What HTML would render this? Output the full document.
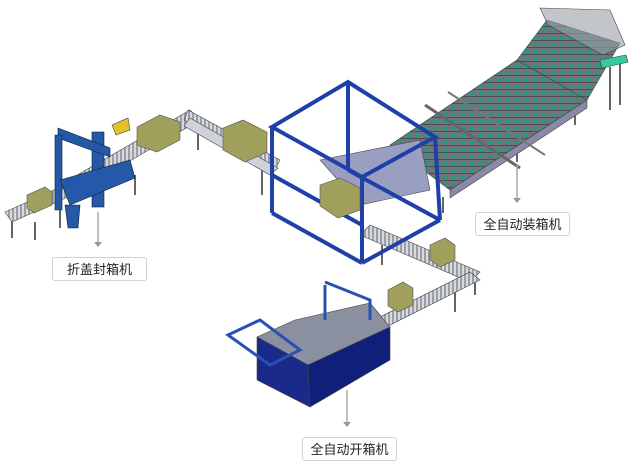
<!DOCTYPE html>
<html><head><meta charset="utf-8"><style>
html,body{margin:0;padding:0;background:#fff;width:632px;height:465px;overflow:hidden}
.lb{position:absolute;height:24px;border:1px solid #ccd3da;border-radius:3px;background:#fff;font:13px "Liberation Sans","Noto Sans CJK SC",sans-serif;color:#222;text-align:center;line-height:24px;box-sizing:border-box}
</style></head><body>
<svg width="632" height="465" style="position:absolute;left:0;top:0">
<defs>
<pattern id="rol" width="4" height="4" patternUnits="userSpaceOnUse"><rect width="4" height="4" fill="#d8dade"/><rect width="2" height="4" fill="#9a9ea6"/></pattern>
<pattern id="tl" width="9" height="7" patternUnits="userSpaceOnUse"><rect width="9" height="7" fill="#70747c"/><rect y="5" width="9" height="1" fill="#4a4e56"/><ellipse cx="4" cy="2.5" rx="2.6" ry="1.6" fill="#1a9e7e"/></pattern>
</defs>
<g stroke="#444" stroke-width="0.6">
<g stroke="#666" stroke-width="2">
<line x1="12" y1="220" x2="12" y2="238"/><line x1="35" y1="222" x2="35" y2="240"/><line x1="60" y1="205" x2="60" y2="228"/><line x1="135" y1="175" x2="135" y2="195"/><line x1="198" y1="128" x2="198" y2="150"/><line x1="262" y1="163" x2="262" y2="195"/><line x1="382" y1="245" x2="382" y2="265"/><line x1="455" y1="290" x2="455" y2="312"/><line x1="475" y1="280" x2="475" y2="295"/><line x1="443" y1="197" x2="443" y2="213"/><line x1="517" y1="150" x2="517" y2="162"/><line x1="575" y1="105" x2="575" y2="125"/><line x1="610" y1="67" x2="610" y2="110"/><line x1="620" y1="60" x2="620" y2="105"/>
</g>
<polygon points="5,212 63,186 72,195 12,222" fill="url(#rol)"/>
<polygon points="60,185 190,110 200,120 70,196" fill="url(#rol)"/>
<polygon points="188,110 280,160 275,170 184,120" fill="url(#rol)"/>
<polygon points="190,118 278,168 270,175 184,126" fill="#cfd2d8"/>
<polygon points="370,225 480,272 470,282 360,235" fill="url(#rol)"/>
<polygon points="470,272 480,280 380,330 370,322" fill="url(#rol)"/>
<polygon points="390,145 517,60 587,100 450,190" fill="url(#tl)"/>
<polygon points="450,190 587,100 587,108 450,198" fill="#8a8aa8"/>
<polygon points="517,60 547,20 620,43 587,100" fill="url(#tl)"/>
<polygon points="540,8 610,10 625,45 603,55 548,25" fill="#9aa0a8" fill-opacity="0.6"/>
<polygon points="600,60 626,55 628,62 602,68" fill="#3c9"/>
<line x1="425" y1="105" x2="520" y2="168" stroke="#666" stroke-width="3"/>
<line x1="448" y1="92" x2="545" y2="155" stroke="#777" stroke-width="2"/>
<polygon points="320,160 420,140 430,190 360,205" fill="#9a9ec0"/>
<g stroke="#1e40a8" stroke-width="4" fill="none">
<polygon points="272,127 348,82 435,137 362,177"/>
<line x1="272" y1="127" x2="272" y2="213"/><line x1="362" y1="177" x2="362" y2="263"/><line x1="435" y1="137" x2="440" y2="220"/><line x1="348" y1="82" x2="348" y2="170"/>
<line x1="272" y1="213" x2="362" y2="263"/><line x1="362" y1="263" x2="440" y2="220"/>
<line x1="272" y1="175" x2="362" y2="225"/><line x1="348" y1="170" x2="440" y2="220"/>
</g>
<g fill="#a09f5c" stroke="#555">
<polygon points="27,195 45,187 52,192 52,205 34,213 27,208"/>
<polygon points="137,127 160,115 180,122 180,140 157,152 137,145"/>
<polygon points="223,128 243,120 267,132 267,152 245,162 223,150"/>
<polygon points="320,185 340,178 360,188 360,210 338,218 320,206"/>
<polygon points="430,245 445,238 455,245 455,260 440,267 430,260"/>
<polygon points="388,290 403,282 413,288 413,305 398,312 388,306"/>
</g>
<g fill="#2458a8" stroke="#123">
<rect x="92" y="132" width="12" height="75"/>
<polygon points="58,128 110,148 110,157 58,138"/>
<polygon points="55,135 62,135 62,210 55,210"/>
<polygon points="60,180 130,160 135,178 70,205"/>
<polygon points="65,205 80,205 78,228 68,228"/>
</g>
<polygon points="112,125 128,118 130,130 116,135" fill="#e2c12a"/>
<polygon points="257,337 295,320 370,303 390,327 308,365" fill="#8a90a0"/>
<polygon points="257,337 308,365 310,407 257,380" fill="#1a2a8a"/>
<polygon points="308,365 390,327 390,360 310,407" fill="#10207a"/>
<g stroke="#2a50b0" stroke-width="3" fill="none">
<polyline points="325,285 325,320"/><polyline points="325,282 370,300 370,320"/>
<polygon points="228,335 260,320 300,350 270,365"/>
</g>
</g>
<g stroke="#aaa" stroke-width="1.5" fill="#999">
<line x1="98" y1="212" x2="98" y2="242"/><polygon points="94,242 102,242 98,247" stroke="none"/>
<line x1="517" y1="165" x2="517" y2="198"/><polygon points="513,198 521,198 517,203" stroke="none"/>
<line x1="347" y1="390" x2="347" y2="422"/><polygon points="343,422 351,422 347,427" stroke="none"/>
</g>
</svg>
<div class="lb" style="left:52px;top:257px;width:95px">折盖封箱机</div>
<div class="lb" style="left:475px;top:212px;width:95px">全自动装箱机</div>
<div class="lb" style="left:302px;top:437px;width:95px">全自动开箱机</div>
</body></html>
